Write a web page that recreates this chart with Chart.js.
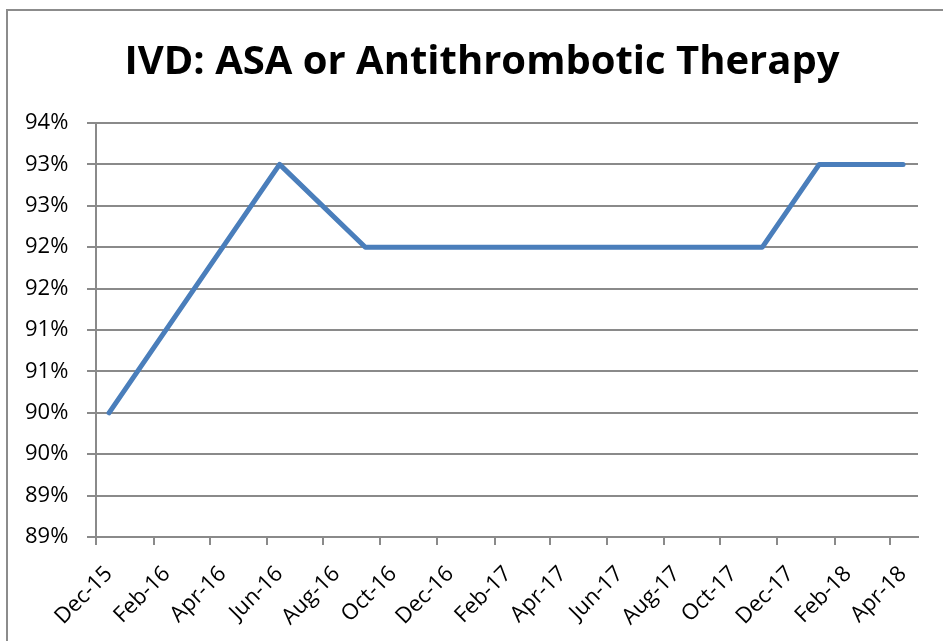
<!DOCTYPE html>
<html>
<head>
<meta charset="utf-8">
<script src="https://cdn.jsdelivr.net/npm/chart.js@4.4.1/dist/chart.umd.min.js"></script>
<style>
  html, body { margin: 0; padding: 0; background: #fff; }
  #wrap { position: relative; width: 943px; height: 641px; overflow: hidden; }
  #frame { position: absolute; left: 6px; top: 9px; width: 1200px; height: 1200px;
           border-left: 2px solid #8c8c8c; border-top: 2px solid #8c8c8c; }
  canvas { position: absolute; left: 0; top: 0; }
</style>
</head>
<body>
<div id="wrap">
  <div id="frame"></div>
  <canvas id="c" width="943" height="641"></canvas>
</div>
<script>
// ---- data ----
const chartTitle = 'IVD: ASA or Antithrombotic Therapy';
const pointDates = ['2015-12-15', '2016-06-15', '2016-09-15', '2017-11-15', '2018-01-15', '2018-04-15'];
const pointValues = [90, 93, 92, 92, 93, 93];   // percent
const xTickLabels = ['Dec-15', 'Feb-16', 'Apr-16', 'Jun-16', 'Aug-16', 'Oct-16', 'Dec-16',
                     'Feb-17', 'Apr-17', 'Jun-17', 'Aug-17', 'Oct-17', 'Dec-17', 'Feb-18', 'Apr-18'];
const xAxisStart = 'Dec-15';
const xAxisEnd = 'May-18';
const yMin = 88.5, yMax = 93.5, yStep = 0.5;

// ---- helpers: convert dates to day offsets from axis start ----
const monthNames = ['Jan','Feb','Mar','Apr','May','Jun','Jul','Aug','Sep','Oct','Nov','Dec'];
function labelToUTC(lbl) {
  const [m, y] = lbl.split('-');
  return Date.UTC(2000 + parseInt(y, 10), monthNames.indexOf(m), 1);
}
const originUTC = labelToUTC(xAxisStart);
function dayOf(utc) { return Math.round((utc - originUTC) / 86400000); }
function isoToDay(s) { const [y, m, d] = s.split('-').map(Number); return dayOf(Date.UTC(y, m - 1, d)); }

const points = pointDates.map((d, i) => ({ x: isoToDay(d), y: pointValues[i] }));
const xTickValues = xTickLabels.map(l => dayOf(labelToUTC(l)));
const xMaxDay = dayOf(labelToUTC(xAxisEnd));

const FONT = '"Open Sans", Lato, sans-serif';
const GRID = '#8a8a8a';

new Chart(document.getElementById('c'), {
  type: 'line',
  data: {
    datasets: [{
      data: points,
      borderColor: '#4a7ebb',
      borderWidth: 5,
      borderCapStyle: 'round',
      borderJoinStyle: 'round',
      pointRadius: 0,
      pointHoverRadius: 0,
      tension: 0,
      fill: false
    }]
  },
  options: {
    responsive: false,
    animation: false,
    events: [],
    layout: { padding: { left: 46, right: 25, top: 0, bottom: 0 } },
    plugins: {
      legend: { display: false },
      tooltip: { enabled: false },
      title: {
        display: true,
        text: chartTitle,
        color: '#000',
        font: { family: FONT, size: 40, weight: 'bold', lineHeight: 1.2 },
        padding: { top: 39, bottom: 36 }
      }
    },
    scales: {
      x: {
        type: 'linear',
        min: 0,
        max: xMaxDay,
        afterBuildTicks: (scale) => { scale.ticks = xTickValues.map(v => ({ value: v })); },
        afterFit: (scale) => { scale.height = 104; },
        grid: { display: true, drawOnChartArea: false, drawTicks: true, tickLength: 8, color: GRID, lineWidth: 2 },
        border: { display: true, color: GRID, width: 2 },
        ticks: {
          autoSkip: false,
          maxRotation: 45,
          minRotation: 45,
          padding: 16,
          labelOffset: 13,
          color: '#000',
          font: { family: FONT, size: 22 },
          callback: (v, i) => xTickLabels[i]
        }
      },
      y: {
        min: yMin,
        max: yMax,
        afterFit: (scale) => { scale.width = 50; },
        grid: { color: GRID, lineWidth: 2, drawTicks: true, tickLength: 9 },
        border: { display: true, color: GRID, width: 2 },
        ticks: {
          stepSize: yStep,
          mirror: true,
          crossAlign: 'near',
          padding: -71,
          color: '#000',
          font: { family: FONT, size: 22 },
          callback: (v) => Math.round(Math.round(v * 2) / 2) + '%'
        }
      }
    }
  }
});
</script>
</body>
</html>
